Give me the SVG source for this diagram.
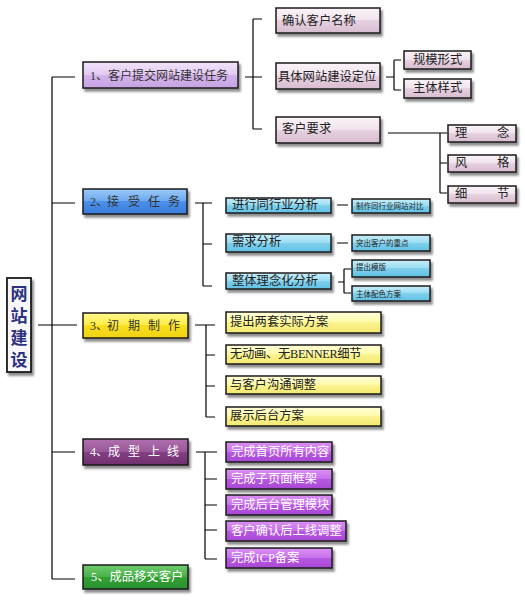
<svg xmlns="http://www.w3.org/2000/svg" width="525" height="600" viewBox="0 0 525 600">
<defs>
<filter id="sh" x="-10%" y="-20%" width="130%" height="160%"><feDropShadow dx="2" dy="3" stdDeviation="1.3" flood-color="#000" flood-opacity="0.45"/></filter>
<linearGradient id="gP1" x1="0" y1="0" x2="0" y2="1"><stop offset="0" stop-color="#f2e4fa"/><stop offset="0.5" stop-color="#e2c8f2"/><stop offset="0.5" stop-color="#d4b4ec"/><stop offset="1" stop-color="#c6a2e2"/></linearGradient>
<linearGradient id="gB" x1="0" y1="0" x2="0" y2="1"><stop offset="0" stop-color="#9ccaf8"/><stop offset="0.5" stop-color="#6aa8f0"/><stop offset="0.5" stop-color="#4c90e8"/><stop offset="1" stop-color="#3a7ee0"/></linearGradient>
<linearGradient id="gY" x1="0" y1="0" x2="0" y2="1"><stop offset="0" stop-color="#fff890"/><stop offset="0.5" stop-color="#ffec40"/><stop offset="0.5" stop-color="#f8e020"/><stop offset="1" stop-color="#f0d010"/></linearGradient>
<linearGradient id="gD" x1="0" y1="0" x2="0" y2="1"><stop offset="0" stop-color="#b070b0"/><stop offset="0.5" stop-color="#985898"/><stop offset="0.5" stop-color="#844084"/><stop offset="1" stop-color="#703070"/></linearGradient>
<linearGradient id="gG" x1="0" y1="0" x2="0" y2="1"><stop offset="0" stop-color="#70cc70"/><stop offset="0.5" stop-color="#48b048"/><stop offset="0.5" stop-color="#34a034"/><stop offset="1" stop-color="#2a9030"/></linearGradient>
<linearGradient id="gPk" x1="0" y1="0" x2="0" y2="1"><stop offset="0" stop-color="#faf4f8"/><stop offset="0.5" stop-color="#f0e2ec"/><stop offset="0.5" stop-color="#e6d2e0"/><stop offset="1" stop-color="#d8bcd0"/></linearGradient>
<linearGradient id="gC" x1="0" y1="0" x2="0" y2="1"><stop offset="0" stop-color="#c8eefa"/><stop offset="0.5" stop-color="#98dcf2"/><stop offset="0.5" stop-color="#80d0ec"/><stop offset="1" stop-color="#60c0e4"/></linearGradient>
<linearGradient id="gLY" x1="0" y1="0" x2="0" y2="1"><stop offset="0" stop-color="#ffffd8"/><stop offset="0.5" stop-color="#fffaa8"/><stop offset="0.5" stop-color="#fbf490"/><stop offset="1" stop-color="#f2e870"/></linearGradient>
<linearGradient id="gV" x1="0" y1="0" x2="0" y2="1"><stop offset="0" stop-color="#dc90f4"/><stop offset="0.5" stop-color="#c670ea"/><stop offset="0.5" stop-color="#b658e0"/><stop offset="1" stop-color="#a848d4"/></linearGradient>
</defs>
<style>
.b{stroke:#1a1a1a;stroke-width:1.5;filter:url(#sh)}
.t{font-family:"Liberation Serif","Noto Sans CJK SC",serif;font-size:12.3px;fill:#222;dominant-baseline:central}
.tw{fill:#fff}
.s{font-size:7.5px}
.ln{stroke:#000;stroke-width:1.2;fill:none}
</style>
<rect width="525" height="600" fill="#fff"/>
<g id="connectors" class="ln">
<path d="M38 325H77M52 77V579M52 77H75M52 203H75M52 325H75M52 452H75M52 579H75"/>
<path d="M245 77H253M253 19V129M253 19H262M253 77H262M253 129H262"/>
<path d="M386 77H394M394 60V90M394 60H401M394 90H401"/>
<path d="M388 133H447M440 133V193M440 163H447M440 193H447"/>
<path d="M195 203H212M203 203V286M203 244H212M203 286H212"/>
<path d="M337 205H348M337 243H348M338 282H344M344 269V293M344 269H351M344 293H351"/>
<path d="M195 325H215M206 325V417M206 355H215M206 386H215M206 417H215"/>
<path d="M196 452H217M205 452V559M205 479H217M205 505H217M205 530H217M205 559H217"/>
</g>
<g id="root">
<rect x="7" y="278" width="24" height="94" fill="#f8f8fc" stroke="#1a1a1a" stroke-width="1.8" filter="url(#sh)"/>
<text class="t" x="19" text-anchor="middle" style="font-size:17px;font-weight:bold;fill:#2b3080"><tspan x="19" y="294">网</tspan><tspan x="19" y="316">站</tspan><tspan x="19" y="338">建</tspan><tspan x="19" y="360">设</tspan></text>
</g>
<g id="n1"><rect class="b" x="83" y="62" width="155" height="26" fill="url(#gP1)"/><text class="t" x="90" y="76" style="font-size:12px;fill:#333">1、客户提交网站建设任务</text></g>
<g id="n2"><rect class="b" x="83" y="189" width="104" height="25" fill="url(#gB)"/><text class="t" y="202" x="90 96 107 119 128 140 148 160 168" style="font-size:12px;fill:#333">2、接 受 任 务</text></g>
<g id="n3"><rect class="b" x="83" y="313" width="105" height="25" fill="url(#gY)"/><text class="t" y="326" x="90 96 107 119 128 140 148 160 168" style="font-size:12px;fill:#333">3、初 期 制 作</text></g>
<g id="n4"><rect class="b" x="83" y="439" width="105" height="26" fill="url(#gD)"/><text class="t tw" y="452" x="90 96 108 120 128 140 148 160 167" style="font-size:12px">4、成 型 上 线</text></g>
<g id="n5"><rect class="b" x="83" y="565" width="105" height="24" fill="url(#gG)"/><text class="t tw" x="91" y="577" style="font-size:12.3px">5、成品移交客户</text></g>

<g id="n1a"><rect class="b" x="276" y="8" width="104" height="25" fill="url(#gPk)"/><text class="t" x="282" y="21">确认客户名称</text></g>
<g id="n1b"><rect class="b" x="276" y="63" width="104" height="26" fill="url(#gPk)"/><text class="t" x="278" y="77">具体网站建设定位</text></g>
<g id="n1c"><rect class="b" x="276" y="117" width="104" height="26" fill="url(#gPk)"/><text class="t" x="282" y="129">客户要求</text></g>
<g id="n1b1"><rect class="b" x="404" y="51" width="67" height="18" fill="url(#gPk)"/><text class="t" x="413" y="60">规模形式</text></g>
<g id="n1b2"><rect class="b" x="404" y="79" width="67" height="19" fill="url(#gPk)"/><text class="t" x="413" y="88">主体样式</text></g>
<g id="n1c1"><rect class="b" x="448" y="125" width="68" height="17" fill="url(#gPk)"/><text class="t" y="133"><tspan x="455">理</tspan><tspan x="497">念</tspan></text></g>
<g id="n1c2"><rect class="b" x="448" y="155" width="68" height="17" fill="url(#gPk)"/><text class="t" y="163"><tspan x="455">风</tspan><tspan x="497">格</tspan></text></g>
<g id="n1c3"><rect class="b" x="448" y="186" width="68" height="17" fill="url(#gPk)"/><text class="t" y="194"><tspan x="455">细</tspan><tspan x="497">节</tspan></text></g>

<g id="n2a"><rect class="b" x="226" y="198" width="105" height="15" fill="url(#gC)"/><text class="t" x="232" y="205">进行同行业分析</text></g>
<g id="n2b"><rect class="b" x="226" y="234" width="105" height="18" fill="url(#gC)"/><text class="t" x="232" y="242">需求分析</text></g>
<g id="n2c"><rect class="b" x="226" y="273" width="105" height="16" fill="url(#gC)"/><text class="t" x="232" y="281">整体理念化分析</text></g>
<g id="n2a1"><rect class="b" x="352" y="199" width="78" height="14" fill="url(#gC)"/><text class="t s" x="356" y="206">制作同行业网站对比</text></g>
<g id="n2b1"><rect class="b" x="352" y="235" width="78" height="16" fill="url(#gC)"/><text class="t s" x="356" y="243">突出客户的重点</text></g>
<g id="n2c1"><rect class="b" x="352" y="260" width="78" height="17" fill="url(#gC)"/><text class="t s" x="356" y="267">提出模版</text></g>
<g id="n2c2"><rect class="b" x="352" y="286" width="78" height="15" fill="url(#gC)"/><text class="t s" x="356" y="294">主体配色方案</text></g>

<g id="n3a"><rect class="b" x="226" y="312" width="155" height="21" fill="url(#gLY)"/><text class="t" x="230" y="322">提出两套实际方案</text></g>
<g id="n3b"><rect class="b" x="226" y="345" width="155" height="19" fill="url(#gLY)"/><text class="t" x="230" y="354" style="letter-spacing:-0.3px">无动画、无BENNER细节</text></g>
<g id="n3c"><rect class="b" x="226" y="376" width="155" height="18" fill="url(#gLY)"/><text class="t" x="230" y="385">与客户沟通调整</text></g>
<g id="n3d"><rect class="b" x="226" y="407" width="155" height="19" fill="url(#gLY)"/><text class="t" x="230" y="416">展示后台方案</text></g>

<g id="n4a"><rect class="b" x="226" y="442" width="106" height="20" fill="url(#gV)"/><text class="t tw" x="231" y="452">完成首页所有内容</text></g>
<g id="n4b"><rect class="b" x="226" y="469" width="106" height="20" fill="url(#gV)"/><text class="t tw" x="231" y="479">完成子页面框架</text></g>
<g id="n4c"><rect class="b" x="226" y="495" width="106" height="20" fill="url(#gV)"/><text class="t tw" x="231" y="505">完成后台管理模块</text></g>
<g id="n4d"><rect class="b" x="226" y="521" width="120" height="20" fill="url(#gV)"/><text class="t tw" x="231" y="531">客户确认后上线调整</text></g>
<g id="n4e"><rect class="b" x="226" y="548" width="106" height="20" fill="url(#gV)"/><text class="t tw" x="231" y="558">完成ICP备案</text></g>
</svg>
